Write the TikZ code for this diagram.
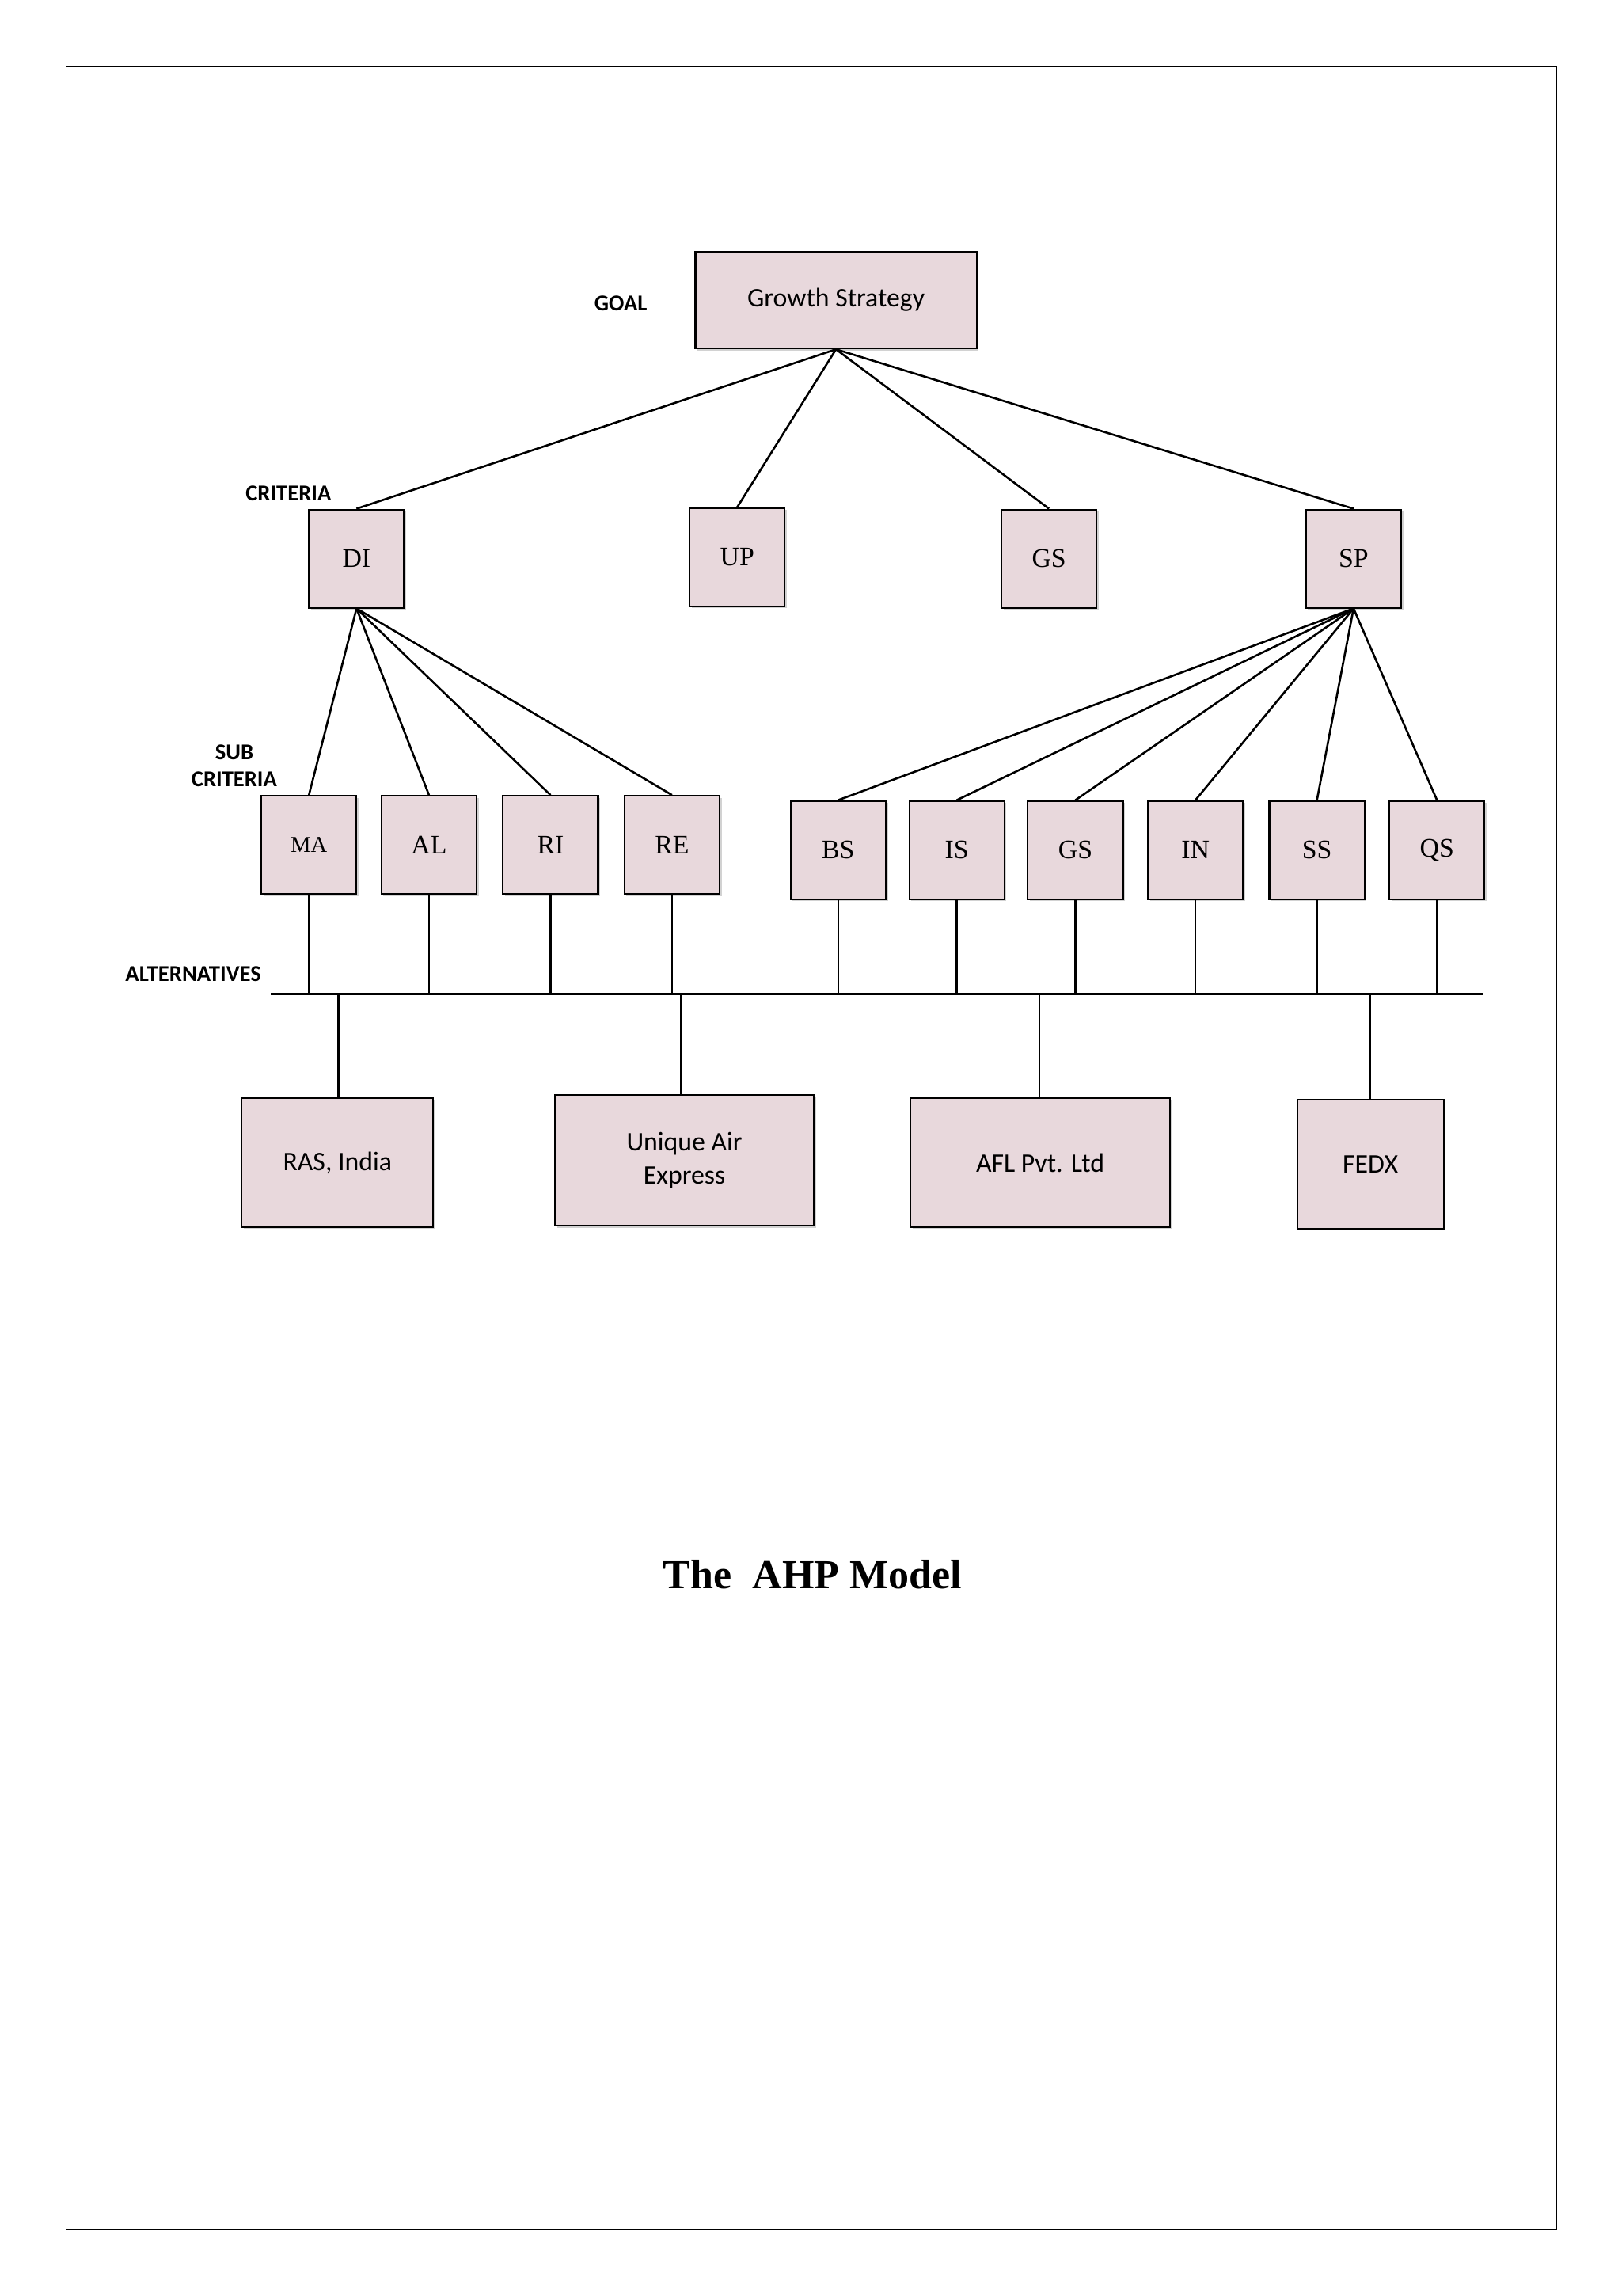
\documentclass[tikz,border=0pt]{standalone}
\usepackage{fontspec}
\usetikzlibrary{shadows}
\setmainfont{Liberation Serif}
\newfontfamily\carl{Carlito}
\begin{document}
\begin{tikzpicture}[x=0.05cm,y=-0.05cm,
  bx/.style={draw=black,line width=1.6pt,fill={rgb,255:red,232;green,216;blue,220},
    drop shadow={shadow xshift=2pt,shadow yshift=-2pt,fill=black!35},inner sep=0pt},
  sq/.style={bx,minimum width=3.25cm,minimum height=3.35cm,font=\fontsize{26}{30}\selectfont},
  alt/.style={bx,font=\carl\fontsize{26}{32}\selectfont,align=center},
  lab/.style={font=\carl\bfseries\fontsize{22}{26}\selectfont,inner sep=0pt},
  ln/.style={line width=2pt}]
\useasboundingbox (0,0) rectangle (1107.4,1568);
\fill[white] (0,0) rectangle (1107.4,1568);
\draw[line width=1pt] (45,45) rectangle (1063,1523);
% goal
\node[alt,minimum width=9.6cm,minimum height=3.3cm] (g) at (571,205) {Growth Strategy};
\node[lab] (goal) at (424,207) {GOAL};
\node[lab] (crit) at (197,337) {CRITERIA};
\node[lab,align=center] (sub) at (160,523) {SUB\\CRITERIA};
\node[lab] (alts) at (132,665) {ALTERNATIVES};
% criteria
\node[sq] (di) at (243.5,381.5) {DI};
\node[sq] (up) at (503.5,380.5) {UP};
\node[sq] (gs) at (716.5,381.5) {GS};
\node[sq] (sp) at (924.5,381.5) {SP};
\foreach \c in {di,up,gs,sp} \draw[ln] (g.south) -- (\c.north);
% sub criteria
\node[sq,font=\fontsize{22}{26}\selectfont] (ma) at (211,577) {MA};
\node[sq] (al) at (293,577) {AL};
\node[sq] (ri) at (376,577) {RI};
\node[sq] (re) at (459,577) {RE};
\foreach \c in {ma,al,ri,re} \draw[ln] (di.south) -- (\c.north);
\node[sq] (bs) at (572.5,580.5) {BS};
\node[sq] (is) at (653.5,580.5) {IS};
\node[sq] (gs2) at (734.5,580.5) {GS};
\node[sq] (in) at (816.5,580.5) {IN};
\node[sq] (ss) at (899.5,580.5) {SS};
\node[sq] (qs) at (981.5,580.5) {QS};
\foreach \c in {bs,is,gs2,in,ss,qs} \draw[ln] (sp.south) -- (\c.north);
% bus
\coordinate (busL) at (185,679);
\coordinate (busR) at (1013,679);
\draw[ln,line width=2.4pt] (busL) -- (busR);
\foreach \c in {ma,al,ri,re,bs,is,gs2,in,ss,qs} \draw[ln] (\c.south) -- (\c.south |- busL);
% alternatives
\node[alt,minimum width=6.55cm,minimum height=4.4cm] (ras) at (230.5,794) {RAS, India};
\node[alt,minimum width=8.85cm,minimum height=4.45cm] (ua) at (467.5,792.5) {Unique Air\\Express};
\node[alt,minimum width=8.85cm,minimum height=4.4cm] (afl) at (710.5,794) {AFL Pvt. Ltd};
\node[alt,minimum width=5cm,minimum height=4.4cm] (fedx) at (936,795) {FEDX};
\foreach \c/\x in {ras/231,ua/465,afl/710,fedx/936} \draw[ln] (\x,679) -- (\c.north -| \x,0);
\node[font=\bfseries\fontsize{40}{46}\selectfont] (title) at (555,1075) {The \ AHP Model};
\end{tikzpicture}
\end{document}
